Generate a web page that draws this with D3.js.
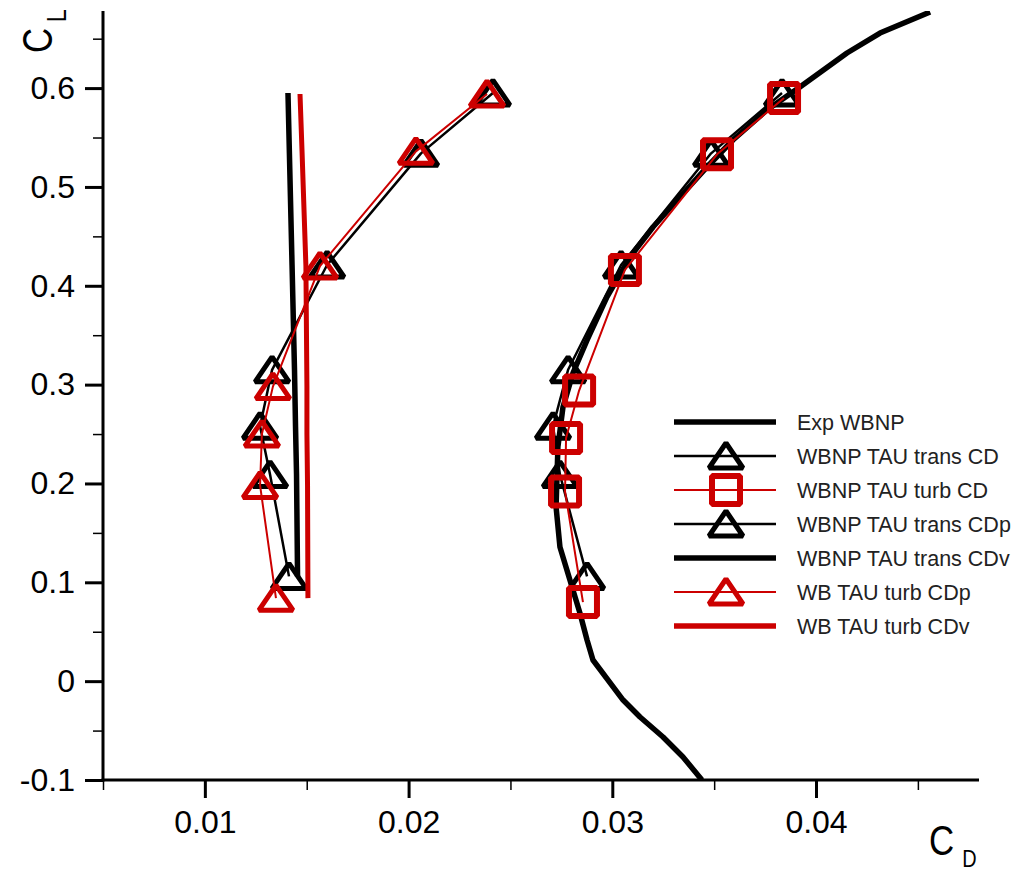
<!DOCTYPE html>
<html>
<head>
<meta charset="utf-8">
<script src="https://cdn.jsdelivr.net/npm/d3@7"></script>
<style>
  html, body { margin: 0; padding: 0; background: #fff; }
  svg { display: block; font-family: "Liberation Sans", Arial, sans-serif; }
</style>
</head>
<body>
<svg id="chart" width="1026" height="873"></svg>
<script>
// Drag polar: lift coefficient vs drag coefficient

// Tick values
const cdMajorTicks = [0.01, 0.02, 0.03, 0.04];
const cdMinorTicks = [0.005, 0.015, 0.025, 0.035, 0.045];
const clMajorTicks = [-0.1, 0, 0.1, 0.2, 0.3, 0.4, 0.5, 0.6];
const clMinorTicks = [-0.05, 0.05, 0.15, 0.25, 0.35, 0.45, 0.55, 0.65];

// Experiment, WBNP
const expCD = [0.04560, 0.04314, 0.04152, 0.03921, 0.03759, 0.03592, 0.03465, 0.03332, 0.03200,
               0.03087, 0.02974, 0.02876, 0.02807, 0.02758, 0.02733, 0.02724, 0.02743, 0.02792,
               0.02841, 0.02876, 0.02905, 0.03053, 0.03136, 0.03249, 0.03347, 0.03440];
const expCL = [0.677, 0.6557, 0.6355, 0.6011, 0.5778, 0.5475, 0.5202, 0.4898, 0.4595,
               0.4291, 0.3887, 0.3451, 0.3118, 0.2774, 0.2369, 0.1762, 0.1357, 0.1023,
               0.0690, 0.0416, 0.0214, -0.0191, -0.0363, -0.0565, -0.0767, -0.1];

// WBNP TAU, transitional
const transCL  = [0.595, 0.534, 0.421, 0.315, 0.258, 0.209, 0.106];
const transCD  = [0.03833, 0.03485, 0.03043, 0.02783, 0.02709, 0.02743, 0.02876];
const transCDp = [0.02414, 0.02061, 0.01600, 0.01330, 0.01271, 0.01320, 0.01413];
const transCDv = [0.01408, 0.01415, 0.01428, 0.01440, 0.01445, 0.01450, 0.01455];

// WBNP TAU, fully turbulent
const turbCL = [0.590, 0.533, 0.416, 0.294, 0.246, 0.192, 0.080];
const turbCD = [0.03843, 0.03514, 0.03062, 0.02837, 0.02773, 0.02768, 0.02856];

// WB TAU, fully turbulent
const wbCL  = [0.594, 0.536, 0.420, 0.298, 0.250, 0.198, 0.084];
const wbCDp = [0.02385, 0.02036, 0.01565, 0.01334, 0.01280, 0.01271, 0.01349];
const wbCDv = [0.01467, 0.01477, 0.01496, 0.01501, 0.01501, 0.01504, 0.01506];

const legendLabels = [
  "Exp WBNP",
  "WBNP TAU trans CD",
  "WBNP TAU turb CD",
  "WBNP TAU trans CDp",
  "WBNP TAU trans CDv",
  "WB TAU turb CDp",
  "WB TAU turb CDv"
];

const RED = "#cc0000";
const BLACK = "#000000";

const svg = d3.select("#chart");
const plotLeft = 103, plotRight = 979, plotTop = 11, plotBottom = 780;

const x = d3.scaleLinear().domain([0.005, 0.048]).range([plotLeft, plotRight]);
const y = d3.scaleLinear().domain([-0.1, 0.678]).range([plotBottom, plotTop]);

const zip = (xs, ys) => xs.map((v, i) => [v, ys[i]]);
const line = d3.line().x(d => x(d[0])).y(d => y(d[1]));

// Marker shapes (open triangle / open square)
const triPath = "M0,-13 L17,12 L-17,12 Z";
const sqPath = "M-14,-14 L14,-14 L14,14 L-14,14 Z";

svg.append("defs").append("clipPath").attr("id", "plotClip")
  .append("rect").attr("x", plotLeft).attr("y", plotTop)
  .attr("width", plotRight - plotLeft).attr("height", plotBottom - plotTop);

const plot = svg.append("g").attr("clip-path", "url(#plotClip)");

function drawLine(data, color, width) {
  plot.append("path").datum(data)
    .attr("d", line).attr("fill", "none")
    .attr("stroke", color).attr("stroke-width", width)
    .attr("stroke-linejoin", "round");
}
function drawMarkers(data, shape, color, width) {
  plot.append("g").selectAll("path").data(data).join("path")
    .attr("transform", d => `translate(${x(d[0])},${y(d[1])})`)
    .attr("d", shape).attr("fill", "none")
    .attr("stroke", color).attr("stroke-width", width)
    .attr("stroke-linejoin", "bevel");
}

// Series, in legend order
drawLine(zip(expCD, expCL), BLACK, 5.5);

drawLine(zip(transCD, transCL), BLACK, 2.5);
drawMarkers(zip(transCD, transCL), triPath, BLACK, 5);

drawLine(zip(turbCD, turbCL), RED, 2);
drawMarkers(zip(turbCD, turbCL), sqPath, RED, 6);

drawLine(zip(transCDp, transCL), BLACK, 2.5);
drawMarkers(zip(transCDp, transCL), triPath, BLACK, 5);

drawLine(zip(transCDv, transCL), BLACK, 5.5);

drawLine(zip(wbCDp, wbCL), RED, 2);
drawMarkers(zip(wbCDp, wbCL), triPath, RED, 5);

drawLine(zip(wbCDv, wbCL), RED, 5);

// Axes
function styleAxis(g, major) {
  g.select(".domain").remove();
  g.selectAll(".tick line").attr("stroke", "#000").attr("stroke-width", major ? 3 : 1.5);
  g.selectAll(".tick text").attr("fill", "#000").style("font-size", "32px")
    .style("font-family", '"Liberation Sans", Arial, sans-serif');
}

const xMajor = svg.append("g").attr("transform", `translate(0,${plotBottom})`)
  .call(d3.axisBottom(x).tickValues(cdMajorTicks).tickSize(18).tickPadding(12)
        .tickFormat(d => d.toFixed(2)));
styleAxis(xMajor, true);
const xMinor = svg.append("g").attr("transform", `translate(0,${plotBottom})`)
  .call(d3.axisBottom(x).tickValues(cdMinorTicks).tickSize(10).tickFormat(""));
styleAxis(xMinor, false);

const yMajor = svg.append("g").attr("transform", `translate(${plotLeft},0)`)
  .call(d3.axisLeft(y).tickValues(clMajorTicks).tickSize(18).tickPadding(10)
        .tickFormat(d => d === 0 ? "0" : d.toFixed(1)));
styleAxis(yMajor, true);
const yMinor = svg.append("g").attr("transform", `translate(${plotLeft},0)`)
  .call(d3.axisLeft(y).tickValues(clMinorTicks).tickSize(10).tickFormat(""));
styleAxis(yMinor, false);

// Axis lines
svg.append("line").attr("x1", plotLeft).attr("x2", plotLeft).attr("y1", plotTop).attr("y2", plotBottom + 1.5)
  .attr("stroke", "#000").attr("stroke-width", 3);
svg.append("line").attr("x1", plotLeft - 1.5).attr("x2", plotRight).attr("y1", plotBottom).attr("y2", plotBottom)
  .attr("stroke", "#000").attr("stroke-width", 3);

// Axis titles (condensed lettering; the CL title runs bottom-to-top)
const yTitle = svg.append("text")
  .attr("transform", "translate(52,53) rotate(-90) scale(0.83,1)")
  .style("font-size", "42px").attr("fill", "#000");
yTitle.append("tspan").attr("x", 0).attr("y", 0).text("C");
yTitle.append("tspan").attr("x", 37).attr("y", 14).style("font-size", "28px").text("L");

const xTitle = svg.append("text")
  .attr("transform", "translate(929,855) scale(0.83,1)")
  .style("font-size", "42px").attr("fill", "#000");
xTitle.append("tspan").attr("x", 0).attr("y", 0).text("C");
xTitle.append("tspan").attr("x", 40).attr("y", 12).style("font-size", "24px").text("D");

// Legend
const legendStyles = [
  { color: BLACK, width: 5.5, marker: null },
  { color: BLACK, width: 2.5, marker: triPath, mw: 5 },
  { color: RED,   width: 2,   marker: sqPath, mw: 6 },
  { color: BLACK, width: 2.5, marker: triPath, mw: 5 },
  { color: BLACK, width: 5.5, marker: null },
  { color: RED,   width: 2,   marker: triPath, mw: 5 },
  { color: RED,   width: 5.5, marker: null }
];
const legend = svg.append("g");
const rowY = i => 422 + i * 34;
legendLabels.forEach((label, i) => {
  const s = legendStyles[i];
  const yy = rowY(i);
  legend.append("line").attr("x1", 674).attr("x2", 776).attr("y1", yy).attr("y2", yy)
    .attr("stroke", s.color).attr("stroke-width", s.width);
  if (s.marker) {
    legend.append("path").attr("transform", `translate(726,${yy})`)
      .attr("d", s.marker).attr("fill", "none")
      .attr("stroke", s.color).attr("stroke-width", s.mw).attr("stroke-linejoin", "bevel");
  }
  legend.append("text").attr("x", 797).attr("y", yy).attr("dy", "0.36em")
    .style("font-size", "21.5px").attr("fill", "#222").text(label);
});
</script>
</body>
</html>
